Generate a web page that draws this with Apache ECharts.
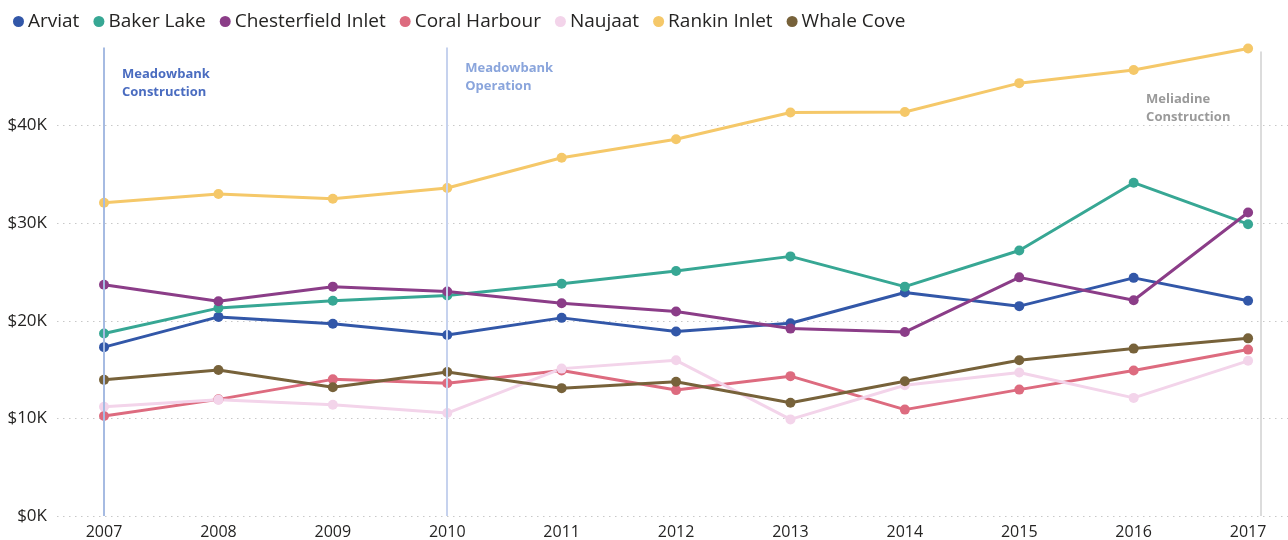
<!DOCTYPE html>
<html>
<head>
<meta charset="utf-8">
<script src="https://cdn.jsdelivr.net/npm/echarts@6/dist/echarts.min.js"></script>
<style>
  html, body { margin: 0; padding: 0; background: #fff; }
  #chart { width: 1288px; height: 540px; }
</style>
</head>
<body>
<div id="chart"></div>
<script>
// Median income by community, Kivalliq region
const years = [2007, 2008, 2009, 2010, 2011, 2012, 2013, 2014, 2015, 2016, 2017];

const arviat        = [17300, 20400, 19700, 18550, 20300, 18900, 19750, 22900, 21500, 24400, 22050];
const bakerLake     = [18700, 21300, 22050, 22600, 23800, 25100, 26600, 23500, 27200, 34150, 29900];
const chesterfield  = [23700, 22000, 23500, 23000, 21800, 20950, 19200, 18850, 24450, 22100, 31100];
const coralHarbour  = [10250, 11950, 14000, 13600, 14900, 12900, 14330, 10900, 12950, 14900, 17050];
const naujaat       = [11200, 11900, 11400, 10550, 15100, 15950, 9900, 13400, 14700, 12100, 15900];
const rankinInlet   = [32100, 33000, 32500, 33600, 36700, 38600, 41350, 41400, 44350, 45700, 47900];
const whaleCove     = [13950, 14950, 13200, 14750, 13100, 13750, 11600, 13800, 15950, 17150, 18200];

const seriesNames  = ['Arviat', 'Baker Lake', 'Chesterfield Inlet', 'Coral Harbour', 'Naujaat', 'Rankin Inlet', 'Whale Cove'];
const seriesValues = [arviat, bakerLake, chesterfield, coralHarbour, naujaat, rankinInlet, whaleCove];
const seriesColors = ['#3257a8', '#37a794', '#8b3d88', '#dd6b7f', '#f3d4ea', '#f5c869', '#77623a'];

// Milestones drawn as vertical reference lines
const milestones = [
  { year: 2007,     text: ['Meadowbank', 'Construction'], line: '#a6bbe2', label: '#4a6cc0', top: 48000, dx: 18, dy: 74 },
  { year: 2010,     text: ['Meadowbank', 'Operation'],    line: '#c6d2ee', label: '#8aa5dc', top: 48000, dx: 18, dy: 68 },
  { year: 2017.114, text: ['Meliadine', 'Construction'],  line: '#dcdcdc', label: '#9a9a9a', top: 47600, dx: -115, dy: 99 }
];

const FONT = "'Segoe UI', 'Open Sans', 'Noto Sans', sans-serif";

const chart = echarts.init(document.getElementById('chart'), null, { renderer: 'canvas' });

const series = seriesNames.map((name, i) => ({
  name,
  type: 'line',
  data: years.map((y, j) => [y, seriesValues[i][j]]),
  symbol: 'circle',
  symbolSize: 10,
  lineStyle: { width: 3, color: seriesColors[i] },
  itemStyle: { color: seriesColors[i] },
  emphasis: { disabled: true },
  z: 3
}));

// Milestone lines live on their own helper series
series.push({
  name: '__milestones',
  type: 'line',
  data: [],
  silent: true,
  markLine: {
    symbol: 'none',
    silent: true,
    label: { show: false },
    data: milestones.map(m => [
      { coord: [m.year, 0], lineStyle: { color: m.line, width: 2, type: 'solid' } },
      { coord: [m.year, m.top] }
    ])
  },
  z: 1
});

const option = {
  animation: false,
  textStyle: { fontFamily: FONT },
  legend: {
    data: seriesNames.map(n => ({ name: n, icon: 'circle' })),
    left: 8,
    top: 7,
    itemWidth: 11,
    itemHeight: 11,
    itemGap: 14,
    textStyle: { fontFamily: FONT, fontSize: 19, color: '#252423', padding: [0, 0, 0, -1] }
  },
  grid: { left: 57, right: 0, top: 28, bottom: 24, containLabel: false },
  xAxis: {
    type: 'value',
    min: 2006.589,
    max: 2017.349,
    axisLine: { show: false },
    axisTick: { show: false },
    splitLine: { show: false },
    axisLabel: {
      customValues: years,
      formatter: v => String(v),
      color: '#252423',
      fontSize: 16,
      fontFamily: FONT,
      margin: 8
    }
  },
  yAxis: {
    type: 'value',
    min: 0,
    max: 50000,
    interval: 10000,
    axisLine: { show: false },
    axisTick: { show: false },
    axisLabel: {
      showMaxLabel: false,
      formatter: v => '$' + (v / 1000) + 'K',
      color: '#252423',
      fontSize: 17,
      fontFamily: FONT,
      margin: 10
    },
    splitLine: {
      showMaxLine: false,
      lineStyle: { color: '#c8c8c8', width: 1, type: [1.5, 4.5] }
    }
  },
  series
};

chart.setOption(option);

// Milestone captions, anchored to the data coordinates of each line
const graphics = [];
milestones.forEach(m => {
  const px = chart.convertToPixel({ gridIndex: 0 }, [m.year, 0]);
  graphics.push({
    type: 'text',
    left: px[0] + m.dx,
    top: m.dy - 9,
    silent: true,
    style: {
      text: m.text.join('\n'),
      fill: m.label,
      font: "bold 13px " + FONT,
      lineHeight: 18
    }
  });
});
chart.setOption({ graphic: graphics });
</script>
</body>
</html>
